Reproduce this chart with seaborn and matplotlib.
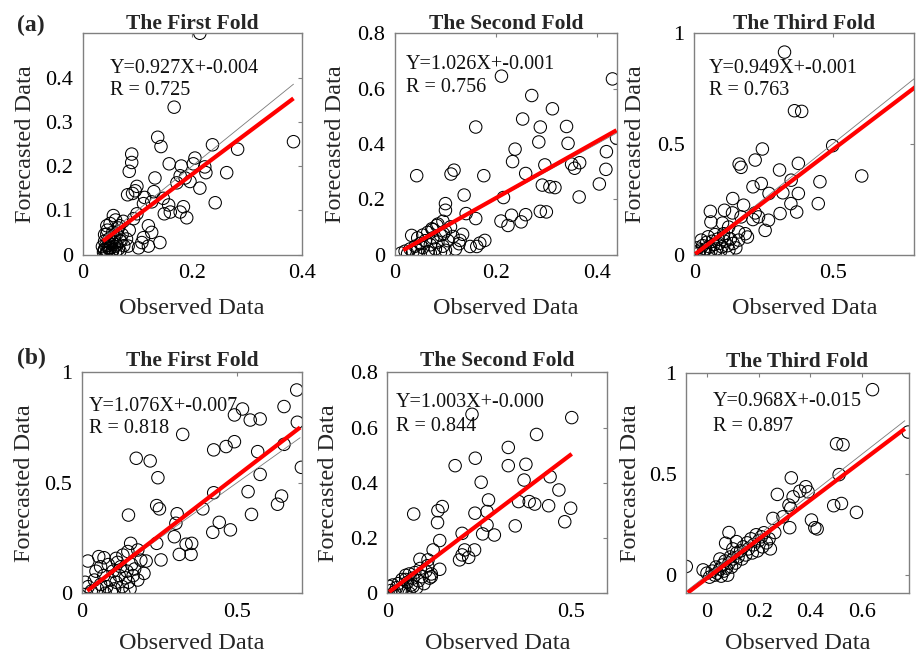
import numpy as np
import pandas as pd
import matplotlib
matplotlib.use("Agg")
import matplotlib.pyplot as plt
from matplotlib.ticker import FuncFormatter
import seaborn as sns

# ---------------- data ----------------
# (a) First fold
a1_obs = [0.214,0.167,0.385,0.283,0.237,0.137,0.143,0.0895,0.0895,0.085,0.158,0.18,0.205,0.202,0.223,
          0.225,0.263,0.178,0.187,0.196,0.214,0.172,0.132,0.099,0.096,0.082,0.091,0.130,0.113,0.111,
          0.126,0.147,0.157,0.242,0.16,0.149,0.178,0.184,0.19,0.099,0.093,0.074,0.056,0.044,0.067,
          0.044,0.062,0.12,0.126,0.111,0.108,0.12,0.141,0.102,0.083,0.068,
          0.038,0.040,0.042,0.045,0.047,0.050,0.052,0.055,0.058,0.040,0.048,0.060,0.062,0.065,0.043,
          0.053,0.068,0.070,0.036,0.057,0.075,0.045,0.05,0.06,0.065,0.072,0.08,0.085,0.055,0.04,
          0.039,0.044,0.049,0.054,0.059,0.046,0.051]
a1_fc = [0.5,0.333,0.255,0.238,0.248,0.265,0.244,0.227,0.208,0.188,0.205,0.2,0.218,0.205,0.198,
         0.185,0.185,0.178,0.173,0.165,0.15,0.162,0.173,0.154,0.144,0.135,0.138,0.142,0.129,0.115,
         0.119,0.127,0.112,0.117,0.096,0.092,0.096,0.108,0.083,0.092,0.081,0.075,0.088,0.065,0.065,
         0.046,0.046,0.065,0.05,0.038,0.027,0.019,0.027,0.015,0.019,0.031,
         0.005,0.012,0.020,0.008,0.015,0.025,0.003,0.010,0.018,0.030,0.035,0.005,0.022,0.012,0.002,
         0.030,0.008,0.030,0.018,0.040,0.02,0.055,0.07,0.078,0.06,0.045,0.035,0.055,0.05,0.045,
         0.009,0.004,0.013,0.006,0.028,0.021,0.016]

# (a) Second fold
a2_obs = [0.431,0.211,0.271,0.312,0.253,0.288,0.34,0.160,0.285,0.343,0.238,0.233,0.297,0.35,0.366,
          0.356,0.419,0.439,0.418,0.405,0.365,0.292,0.307,0.317,0.259,0.176,0.117,0.111,0.043,0.137,
          0.215,0.1,0.1,0.141,0.160,0.21,0.224,0.231,0.259,0.25,0.288,0.3,0.178,0.168,0.149,
          0.162,0.129,0.127,0.134,0.096,0.083,0.073,0.033,
          0.012,0.02,0.025,0.03,0.035,0.04,0.045,0.05,0.055,0.06,0.065,0.07,0.075,0.08,0.085,0.09,
          0.095,0.1,0.105,0.11,0.115,0.12,0.045,0.055,0.065,0.075,0.085,0.095,0.07,0.05,0.09,0.1]
a2_fc = [0.635,0.645,0.575,0.527,0.49,0.461,0.463,0.461,0.407,0.402,0.381,0.336,0.324,0.327,0.332,
         0.312,0.372,0.421,0.308,0.255,0.208,0.251,0.245,0.242,0.293,0.285,0.305,0.291,0.285,0.215,
         0.206,0.184,0.16,0.148,0.13,0.121,0.105,0.142,0.144,0.118,0.156,0.154,0.051,0.041,0.029,
         0.029,0.051,0.039,0.073,0.075,0.105,0.093,0.069,
         0.005,0.012,0.003,0.02,0.008,0.03,0.015,0.04,0.025,0.05,0.01,0.035,0.06,0.02,0.045,0.07,
         0.03,0.085,0.05,0.1,0.065,0.02,0.06,0.07,0.08,0.09,0.11,0.12,0.005,0.0,0.008,0.015]

# (a) Third fold
a3_obs = [0.326,0.362,0.388,0.5,0.605,0.246,0.22,0.162,0.169,0.376,0.308,0.35,0.454,0.242,0.212,
          0.27,0.32,0.376,0.139,0.349,0.448,0.37,0.31,0.232,0.268,0.178,0.058,0.109,0.138,0.169,
          0.22,0.06,0.102,0.212,0.124,0.256,0.184,0.192,0.16,0.106,
          0.0,0.01,0.015,0.02,0.03,0.035,0.04,0.045,0.05,0.055,0.06,0.065,0.07,0.075,0.08,
          0.085,0.09,0.095,0.1,0.105,0.11,0.12,0.125,0.13,0.14,0.15,0.025,0.05,0.075,0.16]
a3_fc = [0.915,0.65,0.647,0.492,0.355,0.477,0.427,0.409,0.394,0.412,0.382,0.336,0.329,0.321,0.306,
         0.276,0.279,0.276,0.253,0.23,0.23,0.192,0.185,0.17,0.155,0.223,0.195,0.2,0.188,0.17,
         0.188,0.147,0.142,0.158,0.124,0.109,0.094,0.079,0.102,0.094,
         0.01,0.03,0.005,0.02,0.04,0.01,0.025,0.055,0.0,0.035,0.015,0.06,0.045,0.005,0.025,
         0.07,0.05,0.015,0.035,0.08,0.06,0.04,0.02,0.07,0.05,0.03,0.065,0.08,0.09,0.065]

# (b) First fold
b1_obs = [0.693,0.652,0.695,0.708,0.652,0.518,0.492,0.543,0.575,0.325,0.492,0.465,0.425,0.567,0.575,
          0.175,0.22,0.245,0.241,0.25,0.15,0.307,0.303,0.39,0.425,0.536,0.644,0.631,0.547,0.443,
          0.479,0.422,0.298,0.336,0.354,0.314,0.352,0.241,0.157,0.255,0.207,0.18,0.019,0.054,0.071,
          0.11,0.132,0.148,
          0.01,0.02,0.03,0.04,0.05,0.06,0.07,0.075,0.08,0.09,0.1,0.105,0.11,0.12,0.125,0.13,
          0.14,0.145,0.15,0.16,0.165,0.17,0.18,0.19,0.2,0.06,0.085,0.115,0.045,0.095,0.135,0.155]
b1_fc = [0.92,0.845,0.774,0.57,0.674,0.834,0.807,0.784,0.789,0.719,0.686,0.664,0.649,0.641,0.538,
         0.611,0.599,0.523,0.397,0.382,0.354,0.36,0.317,0.382,0.455,0.46,0.44,0.403,0.357,0.321,
         0.287,0.276,0.256,0.222,0.226,0.176,0.176,0.226,0.226,0.151,0.146,0.196,0.146,0.166,0.161,
         0.158,0.173,0.189,
         0.05,0.03,0.01,0.06,0.02,0.04,0.08,0.0,0.03,0.06,0.1,0.02,0.05,0.08,0.12,0.03,
         0.07,0.1,0.05,0.13,0.08,0.11,0.06,0.15,0.09,0.12,0.13,0.14,0.1,0.01,0.0,0.02]

# (b) Second fold
b2_obs = [0.503,0.231,0.407,0.33,0.24,0.185,0.33,0.378,0.373,0.444,0.256,0.468,0.276,0.358,0.387,
          0.402,0.44,0.5,0.484,0.349,0.15,0.138,0.072,0.239,0.272,0.137,0.272,0.26,0.292,0.204,
          0.143,0.211,0.238,0.204,0.222,0.197,0.125,0.111,0.089,0.143,0.12,
          0.005,0.01,0.015,0.02,0.025,0.03,0.035,0.04,0.045,0.05,0.055,0.06,0.065,0.07,
          0.075,0.08,0.085,0.09,0.095,0.1,0.105,0.11,0.115,0.12,0.06,0.05,0.04,0.07]
b2_fc = [0.636,0.648,0.575,0.528,0.489,0.462,0.462,0.467,0.41,0.422,0.402,0.374,0.338,0.332,0.332,
         0.323,0.317,0.308,0.259,0.244,0.314,0.299,0.287,0.29,0.296,0.256,0.247,0.215,0.211,0.217,
         0.191,0.157,0.157,0.139,0.13,0.121,0.157,0.121,0.123,0.087,0.06,
         0.025,0.01,0.03,0.005,0.02,0.035,0.01,0.05,0.02,0.065,0.04,0.0,0.03,0.055,
         0.075,0.02,0.045,0.09,0.06,0.035,0.08,0.1,0.055,0.07,0.07,0.05,0.015,0.025]

# (b) Third fold
b3_obs = [0.64,0.778,0.501,0.526,0.511,0.52,0.49,0.578,0.326,0.382,0.359,0.391,0.272,0.333,0.317,
          0.324,0.255,0.294,0.32,0.404,0.417,0.426,0.262,0.085,0.072,0.114,-0.08,-0.015,
          0.0,0.01,0.02,0.03,0.035,0.04,0.05,0.055,0.06,0.065,0.07,0.075,0.08,0.085,0.09,0.095,
          0.1,0.11,0.115,0.12,0.13,0.135,0.14,0.15,0.155,0.16,0.17,0.175,0.18,0.19,0.195,0.2,
          0.21,0.215,0.22,0.23,0.24,0.245,0.05,0.1]
b3_fc = [0.919,0.709,0.651,0.646,0.498,0.355,0.344,0.311,0.482,0.438,0.416,0.413,0.4,0.388,0.347,
         0.331,0.281,0.289,0.235,0.273,0.235,0.229,0.211,0.211,0.158,0.166,0.043,0.026,
         0.01,-0.01,0.02,0.0,0.04,0.01,0.03,-0.005,0.05,0.02,0.07,0.035,0.0,0.06,0.09,0.04,
         0.08,0.06,0.11,0.09,0.12,0.08,0.14,0.1,0.16,0.13,0.18,0.11,0.15,0.2,0.12,0.17,
         0.19,0.14,0.21,0.16,0.18,0.13,0.08,0.13]

titles = ["The First Fold", "The Second Fold", "The Third Fold"]
slopes = [0.927, 1.026, 0.949, 1.076, 1.003, 0.968]
intercepts = [-0.004, -0.001, -0.001, -0.007, -0.000, -0.015]
fit_x_ranges = [(0.037, 0.385), (0.0165, 0.439), (0.0036, 0.8),
                (0.017, 0.704), (0.0054, 0.503), (-0.074, 0.765)]
eq_labels = ["Y=0.927X+-0.004", "Y=1.026X+-0.001", "Y=0.949X+-0.001",
             "Y=1.076X+-0.007", "Y=1.003X+-0.000", "Y=0.968X+-0.015"]
r_labels = ["R = 0.725", "R = 0.756", "R = 0.763", "R = 0.818", "R = 0.844", "R = 0.897"]
x_limits = [(0, 0.4), (0, 0.44), (0, 0.795), (0, 0.711), (0, 0.6), (-0.08, 0.78)]
y_limits = [(0, 0.5), (0, 0.8), (0, 1.0), (0, 1.0), (0, 0.8), (-0.09, 1.0)]
x_ticks = [[0, 0.2, 0.4], [0, 0.2, 0.4], [0, 0.5], [0, 0.5], [0, 0.5], [0, 0.2, 0.4, 0.6]]
y_ticks = [[0, 0.1, 0.2, 0.3, 0.4], [0, 0.2, 0.4, 0.6, 0.8], [0, 0.5, 1], [0, 0.5, 1],
           [0, 0.2, 0.4, 0.6, 0.8], [0, 0.5, 1]]

panels_obs = [a1_obs, a2_obs, a3_obs, b1_obs, b2_obs, b3_obs]
panels_fc = [a1_fc, a2_fc, a3_fc, b1_fc, b2_fc, b3_fc]

# ---------------- style ----------------
sns.set_theme(style="white")
plt.rcParams["font.family"] = ["Liberation Serif", "DejaVu Serif"]

W, H = 917, 661
fig = plt.figure(figsize=(W / 100, H / 100), dpi=100)
fig.patch.set_facecolor("white")

# axes boxes in pixels: (left, right, top, bottom)
boxes = [(82.7, 301.7, 33.3, 254.5), (395, 617, 33.3, 254.5), (694.3, 914.3, 33.3, 254.5),
         (82, 302.3, 372.3, 593.3), (387.3, 607.3, 372.3, 593.3), (686.3, 908.7, 373.3, 593.3)]
eq_pos = [(0.125, 0.843, 0.74), (0.05, 0.857, 0.753), (0.065, 0.842, 0.741),
          (0.03, 0.844, 0.747), (0.04, 0.862, 0.754), (0.12, 0.871, 0.76)]
ylab_x = [-0.263, -0.27, -0.268, -0.259, -0.268, -0.252]
xlab_y = [-0.244, -0.244, -0.244, -0.226, -0.226, -0.226]
title_pad = [3.0, 3.0, 3.0, 4.5, 4.5, 4.5]

spine_col = "#808080"
fmt = FuncFormatter(lambda v, p: f"{v:g}")

for i in range(6):
    l, r, t, b = boxes[i]
    ax = fig.add_axes([l / W, 1 - b / H, (r - l) / W, (b - t) / H])
    ax.set_facecolor("white")
    df = pd.DataFrame({"Observed": panels_obs[i], "Forecasted": panels_fc[i]})
    sns.scatterplot(data=df, x="Observed", y="Forecasted", ax=ax, marker="o", s=80,
                    facecolor="none", edgecolor="black", linewidth=0.75, zorder=2)
    xs = np.array(fit_x_ranges[i])
    ax.plot(xs, xs, color="#7a7a7a", lw=0.6, zorder=3)
    ax.plot(xs, slopes[i] * xs + intercepts[i], color="#ff0000", lw=3.0,
            solid_capstyle="butt", zorder=4)

    ax.set_xlim(*x_limits[i])
    ax.set_ylim(*y_limits[i])
    ax.set_xticks(x_ticks[i])
    ax.set_yticks(y_ticks[i])
    ax.xaxis.set_major_formatter(fmt)
    ax.yaxis.set_major_formatter(fmt)
    ax.tick_params(axis="both", direction="in", length=3, width=0.8, color=spine_col,
                   labelsize=16, labelcolor="black", top=True, right=True, pad=7)
    for sp in ax.spines.values():
        sp.set_color(spine_col)
        sp.set_linewidth(1.0)
        sp.set_visible(True)

    ax.set_xlabel("Observed Data", fontsize=17.5, va="center")
    ax.set_ylabel("Forecasted Data", fontsize=17.5, va="center")
    ax.xaxis.set_label_coords(0.5, xlab_y[i])
    ax.yaxis.set_label_coords(ylab_x[i], 0.5)
    ax.set_title(titles[i % 3], fontsize=15.5, fontweight="bold", pad=title_pad[i])

    ex, ey1, ey2 = eq_pos[i]
    ax.text(ex, ey1, eq_labels[i], transform=ax.transAxes, fontsize=14.5,
            ha="left", va="center", color="#111111", zorder=5)
    ax.text(ex, ey2, r_labels[i], transform=ax.transAxes, fontsize=14.5,
            ha="left", va="center", color="#111111", zorder=5)

fig.text(17 / W, 1 - 25 / H, "(a)", fontsize=17, fontweight="bold", ha="left", va="center")
fig.text(17 / W, 1 - 358 / H, "(b)", fontsize=17, fontweight="bold", ha="left", va="center")

fig.savefig("out.png", dpi=100, facecolor="white")
